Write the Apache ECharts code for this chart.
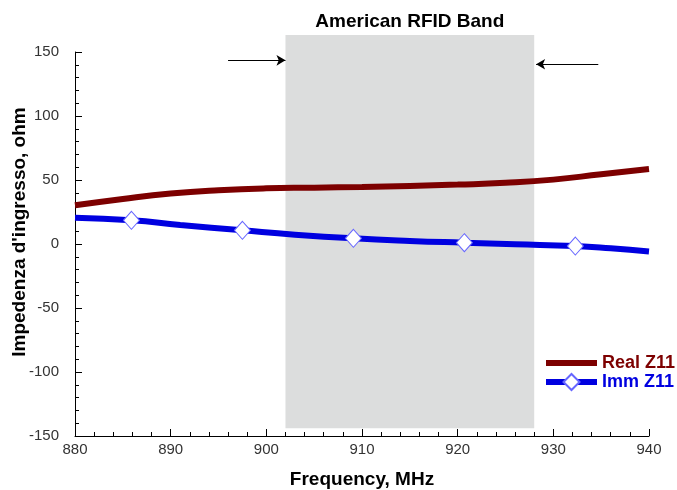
<!DOCTYPE html>
<html><head><meta charset="utf-8">
<script src="https://cdn.jsdelivr.net/npm/echarts@6/dist/echarts.min.js"></script>
<style>html,body{margin:0;padding:0;background:#fff}#c{width:677px;height:490px}</style>
</head><body><div id="c"></div>
<script>
// Data
const realFreq = [880, 885, 890, 895, 900, 905, 910, 915, 920, 925, 930, 935, 940];
const realZ11  = [30.2, 35.2, 39.4, 42.0, 43.5, 44.0, 44.6, 45.4, 46.4, 47.8, 50.3, 54.5, 58.6];
const immFreq  = [880, 885.9, 891, 897.5, 903, 909.1, 915, 920.7, 926, 932.3, 936, 940];
const immZ11   = [20.6, 18.5, 14.9, 10.7, 7.3, 4.4, 2.4, 1.0, -0.2, -1.6, -3.4, -5.9];
const immMarkerIdx = [1, 3, 5, 7, 9];
const seriesNames = ['Real Z11', 'Imm Z11'];
const bandTitle = 'American RFID Band';
const bandFreq = [902, 928];
const bandLevel = [-144, 163];
const leftArrow = [[896, 143.5], [902, 143.5]];
const rightArrow = [[934.7, 140.4], [928.2, 140.4]];

const realColor = '#7d0000';
const immColor = '#0000e0';
const fontFamily = '"Liberation Sans", Arial, sans-serif';

const realData = realFreq.map((f, i) => [f, realZ11[i]]);
const immData = immFreq.map((f, i) => immMarkerIdx.includes(i)
  ? { value: [f, immZ11[i]] }
  : { value: [f, immZ11[i]], symbol: 'none' });

const axisCommon = {
  axisLine: { show: true, onZero: false, lineStyle: { color: '#000', width: 1 } },
  axisTick: { show: true, inside: true, length: 7, lineStyle: { color: '#000' } },
  minorTick: { show: true, splitNumber: 5, length: 4, lineStyle: { color: '#000' } },
  splitLine: { show: false },
  nameMoveOverlap: false,
  axisLabel: { color: '#333', fontSize: 15, fontFamily }
};
const nameStyle = { fontSize: 19, fontWeight: 'bold', color: '#000', fontFamily };

const chart = echarts.init(document.getElementById('c'), null, { renderer: 'canvas' });
chart.setOption({
  animation: false,
  backgroundColor: '#fff',
  grid: [
    { left: 75, right: 28, top: 52, bottom: 54, outerBoundsMode: 'none', containLabel: false },
    { left: 75, right: 28, top: 35, bottom: 61.7, outerBoundsMode: 'none', containLabel: false }
  ],
  xAxis: [
    Object.assign({}, axisCommon, {
      type: 'value', min: 880, max: 940, interval: 10,
      name: 'Frequency, MHz', nameLocation: 'middle', nameGap: 34,
      nameTextStyle: nameStyle,
      axisLabel: Object.assign({}, axisCommon.axisLabel, { margin: 6 })
    }),
    { type: 'value', gridIndex: 1, min: 880, max: 940, show: false }
  ],
  yAxis: [
    Object.assign({}, axisCommon, {
      type: 'value', min: -150, max: 150, interval: 50,
      name: "Impedenza d'ingresso, ohm", nameLocation: 'middle', nameGap: 46,
      nameTextStyle: Object.assign({}, nameStyle, { padding: [0, 0, 0, 24] }),
      axisLabel: Object.assign({}, axisCommon.axisLabel, { margin: 16 })
    }),
    { type: 'value', gridIndex: 1, min: bandLevel[0], max: bandLevel[1], show: false }
  ],
  legend: {
    orient: 'vertical', left: 538, top: 349,
    itemWidth: 51, itemHeight: 20, itemGap: 1,
    lineStyle: { width: 6 },
    textStyle: { fontSize: 18, fontWeight: 'bold', fontFamily },
    data: [
      { name: seriesNames[0], textStyle: { color: realColor }, itemStyle: { opacity: 0 } },
      { name: seriesNames[1], textStyle: { color: immColor } }
    ]
  },
  series: [
    {
      name: 'band', type: 'line', xAxisIndex: 1, yAxisIndex: 1, data: [], silent: true, z: 0,
      markArea: {
        silent: true,
        itemStyle: { color: '#dcdddd' },
        label: {
          show: true, position: 'top', distance: 4,
          fontSize: 19, fontWeight: 'bold', color: '#000', fontFamily
        },
        data: [[
          { name: bandTitle, coord: [bandFreq[0], bandLevel[0]] },
          { coord: [bandFreq[1], bandLevel[1]] }
        ]]
      }
    },
    {
      name: seriesNames[0], type: 'line', smooth: true, symbol: 'none',
      data: realData, z: 3,
      lineStyle: { color: realColor, width: 6 },
      itemStyle: { color: realColor },
      markLine: {
        silent: true,
        symbol: ['none', 'arrow'], symbolSize: [8, 9],
        label: { show: false },
        lineStyle: { color: '#000', width: 1, type: 'solid' },
        data: [
          [{ coord: leftArrow[0] }, { coord: leftArrow[1] }],
          [{ coord: rightArrow[0] }, { coord: rightArrow[1] }]
        ]
      }
    },
    {
      name: seriesNames[1], type: 'line', smooth: true,
      symbol: 'diamond', symbolSize: [16, 18], showAllSymbol: true,
      data: immData, z: 4,
      lineStyle: { color: immColor, width: 6 },
      itemStyle: { color: '#fff', borderColor: '#6666ff', borderWidth: 1 }
    }
  ]
});
</script>
</body></html>
